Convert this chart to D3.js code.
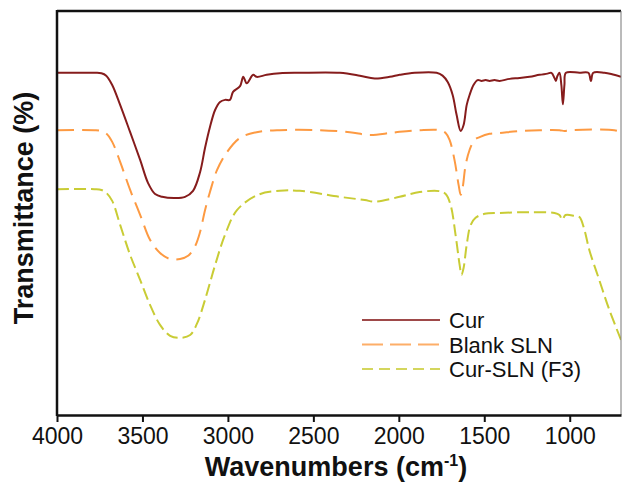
<!DOCTYPE html>
<html>
<head>
<meta charset="utf-8">
<script src="https://cdn.jsdelivr.net/npm/d3@7"></script>
<style>
  body { margin: 0; background: #fff; }
  text { font-family: "Liberation Sans", Arial, sans-serif; }
</style>
</head>
<body>
<div id="chart"></div>
<script>
// series: [wavenumber, transmittance (arbitrary, offset traces)]
var cur = [[4000,84.7],[3780,84.7],[3740,84.6],[3712,84.0],[3677,81.7],[3630,76.7],[3572,70.0],[3513,63.1],[3467,57.4],[3426,54.7],[3385,54.0],[3309,53.7],[3251,54.0],[3204,55.5],[3163,60.1],[3134,66.1],[3105,71.3],[3075,75.5],[3046,77.5],[3017,78.0],[2988,78.0],[2970,80.0],[2929,81.4],[2910,83.7],[2890,82.1],[2852,84.2],[2832,83.7],[2773,84.2],[2696,84.6],[2579,84.7],[2345,84.7],[2228,84.0],[2141,83.3],[2053,83.7],[1995,84.2],[1907,84.7],[1779,84.7],[1744,84.0],[1714,82.4],[1685,79.2],[1662,74.3],[1638,70.3],[1621,71.8],[1603,76.7],[1586,79.2],[1563,81.7],[1539,82.9],[1516,82.7],[1492,82.9],[1469,82.7],[1440,82.9],[1411,82.7],[1352,83.2],[1294,83.4],[1235,83.7],[1177,84.2],[1130,84.5],[1107,84.7],[1089,83.4],[1081,82.7],[1072,83.9],[1060,84.7],[1049,81.7],[1040,76.9],[1031,81.7],[1022,84.7],[943,84.7],[891,84.7],[876,82.7],[862,84.7],[797,84.7],[757,84.4],[700,83.7]]

var blankSLN = [[4000,70.5],[3780,70.5],[3740,70.3],[3712,69.7],[3677,67.6],[3630,62.6],[3572,55.7],[3513,49.5],[3455,43.3],[3397,40.1],[3338,38.6],[3280,38.6],[3233,39.4],[3192,41.8],[3163,45.3],[3134,50.7],[3105,55.2],[3064,60.6],[3005,65.1],[2929,68.6],[2832,70.0],[2696,70.5],[2462,70.5],[2287,70.0],[2170,69.3],[2053,69.8],[1995,70.1],[1878,70.5],[1761,70.5],[1726,69.8],[1703,68.1],[1674,63.1],[1650,56.9],[1638,54.5],[1627,56.2],[1609,61.9],[1586,65.6],[1557,68.1],[1527,68.8],[1469,69.6],[1411,69.8],[1294,70.3],[1177,70.5],[1060,70.5],[1031,70.3],[1002,70.5],[739,70.5],[700,70.0]]

var curSLN = [[4000,55.9],[3780,55.9],[3740,55.7],[3712,55.0],[3677,53.0],[3630,47.0],[3572,39.6],[3513,33.4],[3455,27.2],[3397,22.3],[3338,19.6],[3280,19.1],[3221,19.8],[3181,22.6],[3134,28.5],[3075,37.1],[3017,44.6],[2947,50.7],[2824,54.5],[2696,55.5],[2579,55.5],[2345,54.0],[2199,53.2],[2141,52.8],[1995,54.0],[1878,55.2],[1761,55.4],[1726,54.7],[1697,52.0],[1668,44.6],[1644,37.1],[1633,34.7],[1621,36.4],[1603,42.1],[1580,47.0],[1551,48.8],[1498,49.8],[1411,50.0],[1235,50.2],[1089,50.0],[1060,49.5],[1043,48.3],[1025,49.5],[973,49.3],[943,49.0],[914,45.8],[885,40.8],[827,33.4],[768,26.0],[700,18.6]]

var xTicks = [4000, 3500, 3000, 2500, 2000, 1500, 1000]
var seriesNames = ["Cur", "Blank SLN", "Cur-SLN (F3)"]
var seriesColors = ["#861c1c", "#fd9a42", "#c9cc35"]
var seriesDash = [null, "17,8", "12,5"]

// note: "top" is reserved on window, so use plot* names
var width = 622,
    height = 482,
    plotLeft = 57, plotRight = 621, plotTop = 11, plotBottom = 415

var svg = d3.select("#chart")
    .append("svg")
        .attr("width", width)
        .attr("height", height)

var x = d3.scaleLinear().domain([4000, 700]).range([plotLeft, plotRight])
var y = d3.scaleLinear().domain([0, 100]).range([plotBottom, plotTop])

svg.append("clipPath").attr("id", "clip")
    .append("rect")
        .attr("x", plotLeft).attr("y", plotTop)
        .attr("width", plotRight - plotLeft).attr("height", plotBottom - plotTop)

var line = d3.line()
    .x(function(d) { return x(d[0]) })
    .y(function(d) { return y(d[1]) })
    .curve(d3.curveCatmullRom.alpha(0.5))

var allSeries = [cur, blankSLN, curSLN]

svg.append("g").attr("clip-path", "url(#clip)")
    .selectAll("path")
    .data(allSeries)
    .enter()
    .append("path")
        .attr("d", function(d) { return line(d) })
        .attr("fill", "none")
        .attr("stroke", function(d, i) { return seriesColors[i] })
        .attr("stroke-width", 2)
        .attr("stroke-dasharray", function(d, i) { return seriesDash[i] })

// frame: top and right
svg.append("line")
    .attr("x1", plotLeft).attr("x2", plotRight).attr("y1", plotTop).attr("y2", plotTop)
    .attr("stroke", "#111").attr("stroke-width", 2.5)
svg.append("line")
    .attr("x1", plotRight).attr("x2", plotRight).attr("y1", plotTop).attr("y2", plotBottom)
    .attr("stroke", "#777").attr("stroke-width", 1)

// left axis (no ticks)
svg.append("line")
    .attr("x1", plotLeft).attr("x2", plotLeft).attr("y1", plotTop - 1).attr("y2", plotBottom + 1)
    .attr("stroke", "#111").attr("stroke-width", 2.5)

// bottom axis
var xAxis = svg.append("g")
    .attr("transform", "translate(0," + plotBottom + ")")
    .call(d3.axisBottom(x).tickValues(xTicks).tickFormat(d3.format("d"))
        .tickSize(7).tickSizeOuter(0).tickPadding(6))
xAxis.select(".domain").attr("stroke", "#111").attr("stroke-width", 2.5)
xAxis.selectAll(".tick line").attr("stroke", "#111").attr("stroke-width", 2)
xAxis.selectAll(".tick text")
    .attr("font-size", "23px")
    .attr("fill", "#111")
    .style("font-family", "'Liberation Sans', Arial, sans-serif")

// axis titles
var xt = svg.append("text")
    .attr("x", 336).attr("y", 476)
    .attr("text-anchor", "middle")
    .attr("font-size", "27px").attr("font-weight", "bold").attr("fill", "#111")
xt.append("tspan").text("Wavenumbers (cm")
xt.append("tspan").text("-1").attr("font-size", "16px").attr("dy", "-10")
xt.append("tspan").text(")").attr("dy", "10")

svg.append("text")
    .attr("transform", "translate(33,208) rotate(-90)")
    .attr("text-anchor", "middle")
    .attr("font-size", "27px").attr("font-weight", "bold").attr("fill", "#111")
    .text("Transmittance (%)")

// legend
var legendY = [320, 344.5, 369]
var lg = svg.selectAll(".legend")
    .data(seriesNames)
    .enter()
    .append("g")
        .attr("class", "legend")
        .attr("transform", function(d, i) { return "translate(0," + legendY[i] + ")" })
lg.append("line")
    .attr("x1", 362).attr("x2", 440)
    .attr("stroke", function(d, i) { return seriesColors[i] })
    .attr("stroke-width", 2)
    .attr("stroke-opacity", 0.8)
    .attr("stroke-dasharray", function(d, i) { return i == 1 ? "21,7" : (i == 2 ? "11,6" : null) })
lg.append("text")
    .attr("x", 449).attr("y", 8)
    .attr("font-size", "22px").attr("fill", "#111")
    .text(function(d) { return d })
</script>
</body>
</html>
